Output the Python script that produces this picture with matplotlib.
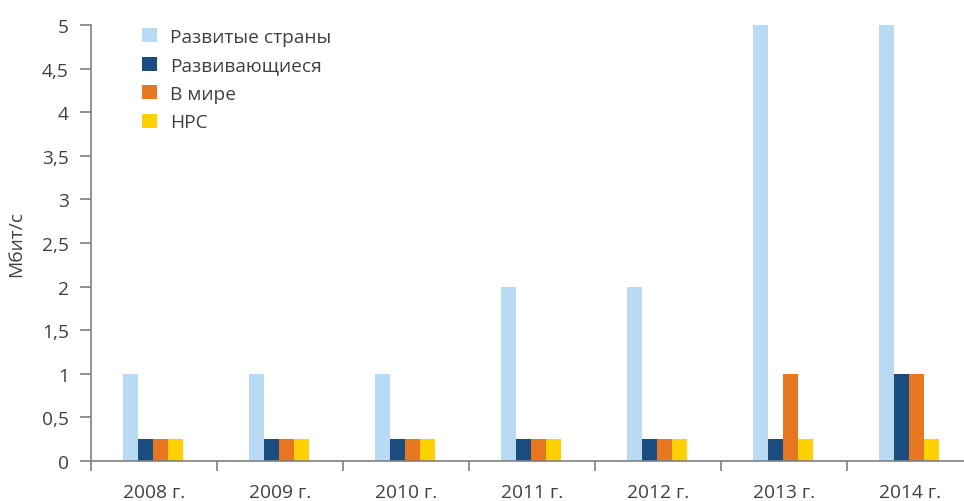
import matplotlib
matplotlib.use("Agg")
import matplotlib.pyplot as plt
import numpy as np
from matplotlib.ticker import FixedLocator, FuncFormatter

years = ["2008 г.", "2009 г.", "2010 г.", "2011 г.", "2012 г.", "2013 г.", "2014 г."]
series_names = ["Развитые страны", "Развивающиеся", "В мире", "НРС"]
developed = [1, 1, 1, 2, 2, 5, 5]
developing = [0.25, 0.25, 0.25, 0.25, 0.25, 0.25, 1]
world = [0.25, 0.25, 0.25, 0.25, 0.25, 1, 1]
ldc = [0.25, 0.25, 0.25, 0.25, 0.25, 0.25, 0.25]
colors = ["#B8DBF3", "#1B4C80", "#E87722", "#FFD100"]

plt.rcParams['font.family'] = ['Open Sans', 'DejaVu Sans']
text_color = "#404040"
fs = 13.8

fig = plt.figure(figsize=(9.64, 5.02), dpi=100)
ax = fig.add_axes([91/964, 1-462/502, 882/964, (462-26)/502])

x = np.arange(len(years))
w = 0.119
data = [developed, developing, world, ldc]
for i, (vals, c, name) in enumerate(zip(data, colors, series_names)):
    ax.bar(x + (i - 1.5) * w - 0.01, vals, width=w, color=c, label=name, linewidth=0)

ax.set_xlim(-0.5, len(years) - 0.5)
ax.set_ylim(0, 5)
ax.set_yticks(np.arange(0, 5.01, 0.5))
ax.yaxis.set_major_formatter(FuncFormatter(lambda v, p: ("%g" % v).replace(".", ",")))

ax.xaxis.set_major_locator(FixedLocator(np.arange(-0.5, len(years), 1.0)))
ax.xaxis.set_major_formatter(FuncFormatter(lambda v, p: ""))
ax.xaxis.set_minor_locator(FixedLocator(x))
ax.set_xticklabels(years, minor=True)
ax.tick_params(axis='x', which='minor', length=0, pad=16, labelsize=fs, labelcolor=text_color)
ax.tick_params(axis='x', which='major', length=7, width=1.2, color="#808080", direction='out')
ax.tick_params(axis='y', length=8, width=1.2, color="#808080", labelsize=fs, labelcolor=text_color, pad=8)

for s in ['top', 'right']:
    ax.spines[s].set_visible(False)
for s in ['left', 'bottom']:
    ax.spines[s].set_color("#808080")
    ax.spines[s].set_linewidth(1.2)

ax.set_ylabel("Мбит/с", fontsize=fs, color=text_color, labelpad=12)

leg = ax.legend(loc='upper left', bbox_to_anchor=(0.045, 1.02), frameon=False, fontsize=fs,
                handlelength=0.75, handleheight=0.75, handletextpad=0.7, labelspacing=0.55,
                labelcolor=text_color, borderaxespad=0.2)

fig.savefig("out.png", dpi=100)
